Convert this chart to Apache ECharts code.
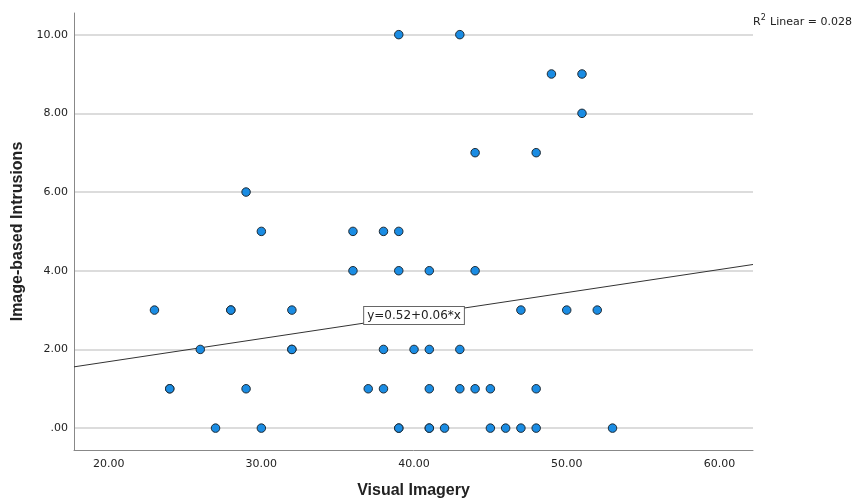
<!DOCTYPE html>
<html>
<head>
<meta charset="utf-8">
<script src="https://cdn.jsdelivr.net/npm/echarts@6/dist/echarts.min.js"></script>
<style>
  html, body { margin: 0; padding: 0; background: #fff; }
  #main { width: 854px; height: 504px; }
</style>
</head>
<body>
<div id="main"></div>
<script>
// Visual Imagery (x) vs Image-based Intrusions (y)
var visualImagery = [
  23, 28, 28, 32, 47, 50, 52,
  26, 32, 32, 38, 40, 41, 43,
  24, 24, 29, 37, 38, 41, 43, 44, 45, 48,
  27, 30, 39, 39, 41, 41, 42, 45, 46, 47, 48, 53,
  36, 39, 41, 44,
  30, 36, 38, 39,
  29,
  44, 48,
  51,
  49, 51,
  39, 43
];
var intrusions = [
  3, 3, 3, 3, 3, 3, 3,
  2, 2, 2, 2, 2, 2, 2,
  1, 1, 1, 1, 1, 1, 1, 1, 1, 1,
  0, 0, 0, 0, 0, 0, 0, 0, 0, 0, 0, 0,
  4, 4, 4, 4,
  5, 5, 5, 5,
  6,
  7, 7,
  8,
  9, 9,
  10, 10
];
var xTicks = [20, 30, 40, 50, 60];
var yTicks = [0, 2, 4, 6, 8, 10];
var fitIntercept = 0.52;
var fitSlope = 0.0585;
var fitLabel = 'y=0.52+0.06*x';
var r2Text = '0.028';

var xMin = 17.73, xMax = 62.2;
var yMin = -0.556, yMax = 10.55;

var points = visualImagery.map(function (x, i) { return [x, intrusions[i]]; });
function fit(x) { return fitIntercept + fitSlope * x; }

var chartDom = document.getElementById('main');
var myChart = echarts.init(chartDom);
var option;

option = {
  animation: false,
  grid: { left: 74, right: 101, top: 13, bottom: 52 },
  xAxis: {
    type: 'value',
    min: xMin,
    max: xMax,
    name: 'Visual Imagery',
    nameLocation: 'middle',
    nameGap: 33,
    nameTextStyle: { fontFamily: 'Liberation Sans', fontWeight: 'bold', fontSize: 16, color: '#222' },
    axisLine: { show: true, onZero: false, lineStyle: { color: '#888', width: 1 } },
    axisTick: { show: false, customValues: xTicks },
    axisLabel: {
      customValues: xTicks,
      margin: 9,
      fontFamily: 'DejaVu Sans',
      fontSize: 11,
      color: '#222',
      formatter: function (v) { return v.toFixed(2); }
    },
    splitLine: { show: false }
  },
  yAxis: {
    type: 'value',
    min: yMin,
    max: yMax,
    name: 'Image-based Intrusions',
    nameLocation: 'middle',
    nameGap: 48,
    nameTextStyle: { fontFamily: 'Liberation Sans', fontWeight: 'bold', fontSize: 16, color: '#222' },
    axisLine: { show: true, onZero: false, lineStyle: { color: '#888', width: 1 } },
    axisTick: { show: false, customValues: yTicks },
    axisLabel: {
      customValues: yTicks,
      margin: 6,
      fontFamily: 'DejaVu Sans',
      fontSize: 11,
      color: '#222',
      formatter: function (v) { return v === 0 ? '.00' : v.toFixed(2); }
    },
    splitLine: { show: true, lineStyle: { color: '#d0d0d0', width: 1.5 } }
  },
  series: [
    {
      type: 'line',
      data: [[xMin, fit(xMin)], [xMax, fit(xMax)]],
      showSymbol: false,
      symbol: 'none',
      lineStyle: { color: '#333', width: 1 },
      z: 2,
      markPoint: {
        symbol: 'rect',
        symbolSize: 0,
        data: [{ coord: [40, fit(40)], value: fitLabel }],
        label: {
          show: true,
          position: 'inside',
          formatter: fitLabel,
          fontFamily: 'DejaVu Sans',
          fontSize: 12,
          color: '#222',
          backgroundColor: '#fff',
          borderColor: '#666',
          borderWidth: 1,
          padding: [3, 3, 2, 3]
        }
      }
    },
    {
      type: 'scatter',
      data: points,
      symbolSize: 8.5,
      itemStyle: { color: '#1a8ce3', borderColor: '#1f2a33', borderWidth: 1, opacity: 1 },
      z: 3
    }
  ],
  graphic: [
    {
      type: 'text',
      right: 2,
      top: 14,
      style: {
        text: '{r|R}{s|2} {r|Linear = ' + r2Text + '}',
        rich: {
          r: { fontFamily: 'DejaVu Sans', fontSize: 11, fill: '#222', verticalAlign: 'bottom' },
          s: { fontFamily: 'DejaVu Sans', fontSize: 8, fill: '#222', padding: [0, 1, 6, 0], verticalAlign: 'bottom' }
        }
      }
    }
  ]
};

option && myChart.setOption(option);
</script>
</body>
</html>
